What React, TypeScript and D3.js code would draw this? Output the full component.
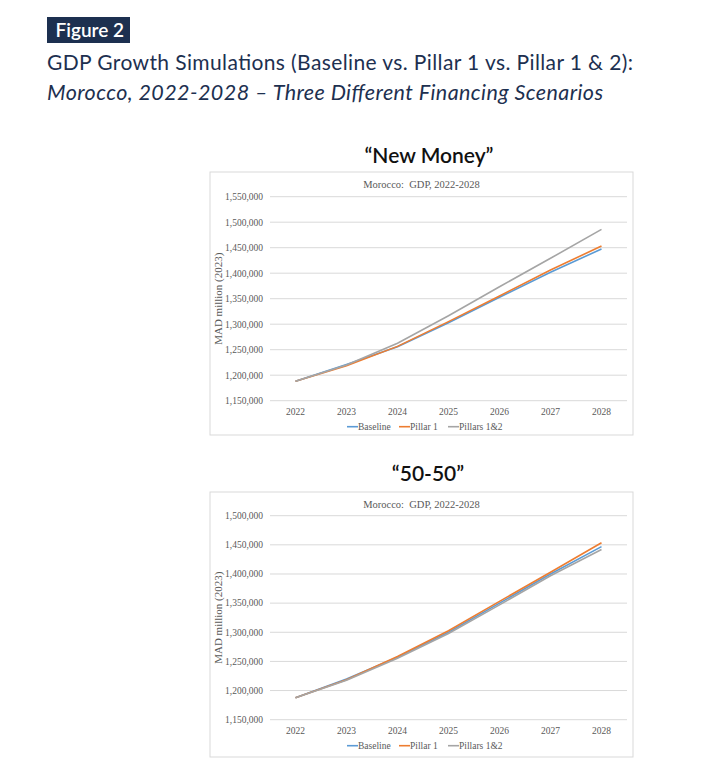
import * as d3 from 'd3';
import { FC } from 'react';

const years = ['2022', '2023', '2024', '2025', '2026', '2027', '2028'];
const seriesNames = ['Baseline', 'Pillar 1', 'Pillars 1&2'];
const colors = ['#5b9bd5', '#ed7d31', '#a5a5a5'];

// "New Money" scenario
const newMoneyBaseline = [1188000, 1221000, 1256000, 1303000, 1352700, 1401800, 1447500];
const newMoneyPillar1 = [1188000, 1218500, 1256500, 1305000, 1355300, 1406300, 1453300];
const newMoneyPillars12 = [1188000, 1220000, 1262500, 1316700, 1373500, 1429200, 1486000];
const newMoneyTicks = [1150000, 1200000, 1250000, 1300000, 1350000, 1400000, 1450000, 1500000, 1550000];

// "50-50" scenario
const fiftyBaseline = [1187500, 1220000, 1257000, 1300000, 1350000, 1400000, 1447000];
const fiftyPillar1 = [1187500, 1218500, 1258500, 1302500, 1353000, 1403000, 1453500];
const fiftyPillars12 = [1187500, 1217500, 1255500, 1298000, 1347000, 1397000, 1442000];
const fiftyTicks = [1150000, 1200000, 1250000, 1300000, 1350000, 1400000, 1450000, 1500000];

const navy = '#1d3050';
const serif = '"Liberation Serif", "Times New Roman", serif';
const sans = 'Lato, "Open Sans", sans-serif';
const fmt = d3.format(',');

type PanelProps = {
  top: number;
  series: number[][];
  ticks: number[];
  gridTop: number;
  gridBottom: number;
  frameBottom: number;
};

const Panel: FC<PanelProps> = ({ top, series, ticks, gridTop, gridBottom, frameBottom }) => {
  const frame = { left: 210, right: 633 };
  const gridLeft = 270;
  const gridRight = 627;

  // categories centred in equal bands, like Excel
  const x = d3.scaleBand<string>().domain(years).range([gridLeft, gridRight]);
  const cx = (yr: string) => x(yr)! + x.bandwidth() / 2;
  const y = d3
    .scaleLinear()
    .domain([ticks[0], ticks[ticks.length - 1]])
    .range([gridBottom, gridTop]);

  const line = d3
    .line<number>()
    .x((_d, i) => cx(years[i]))
    .y((d) => y(d));

  const legendY = gridBottom + 26;
  const legendX = [347, 399, 448];

  return (
    <g>
      <rect
        x={frame.left}
        y={top}
        width={frame.right - frame.left}
        height={frameBottom - top}
        fill="#fff"
        stroke="#d9d9d9"
        strokeWidth={1}
      />
      <text
        x={(frame.left + frame.right) / 2}
        y={top + 15.5}
        textAnchor="middle"
        fontFamily={serif}
        fontSize={10.5}
        fill="#595959"
        style={{ whiteSpace: 'pre' }}
      >
        {'Morocco:  GDP, 2022-2028'}
      </text>
      {ticks.map((t) => (
        <g key={t}>
          <line x1={gridLeft} x2={gridRight} y1={y(t)} y2={y(t)} stroke="#d9d9d9" strokeWidth={1} />
          <text
            x={263}
            y={y(t)}
            dy="0.35em"
            textAnchor="end"
            fontFamily={serif}
            fontSize={9.5}
            fill="#595959"
          >
            {fmt(t)}
          </text>
        </g>
      ))}
      {years.map((yr) => (
        <text
          key={yr}
          x={cx(yr)}
          y={gridBottom + 14}
          textAnchor="middle"
          fontFamily={serif}
          fontSize={9.5}
          fill="#595959"
        >
          {yr}
        </text>
      ))}
      <text
        transform={`translate(222,${(gridTop + gridBottom) / 2}) rotate(-90)`}
        textAnchor="middle"
        fontFamily={serif}
        fontSize={11}
        fill="#595959"
      >
        MAD million (2023)
      </text>
      {series.map((s, i) => (
        <path key={seriesNames[i]} d={line(s)!} fill="none" stroke={colors[i]} strokeWidth={1.6} />
      ))}
      {seriesNames.map((name, i) => (
        <g key={name}>
          <line
            x1={legendX[i]}
            x2={legendX[i] + 11}
            y1={legendY}
            y2={legendY}
            stroke={colors[i]}
            strokeWidth={1.6}
          />
          <text
            x={legendX[i] + 11}
            y={legendY}
            dy="0.35em"
            fontFamily={serif}
            fontSize={9.5}
            fill="#595959"
          >
            {name}
          </text>
        </g>
      ))}
    </g>
  );
};

export default function App() {
  return (
    <svg
      width={726}
      height={773}
      style={{ position: 'absolute', left: 0, top: 0, background: '#fff' }}
    >
      <rect x={47} y={17} width={83} height={26} fill={navy} />
      <text x={55.5} y={37} fontFamily={sans} fontSize={19} fontWeight={600} fill="#fff">
        Figure 2
      </text>
      <text
        x={47}
        y={70}
        fontFamily={sans}
        fontSize={21}
        fill={navy}
        textLength={586}
        lengthAdjust="spacing"
      >
        GDP Growth Simulations (Baseline vs. Pillar 1 vs. Pillar 1 &amp; 2):
      </text>
      <text
        x={47}
        y={100}
        fontFamily={sans}
        fontSize={21.5}
        fontStyle="italic"
        fill={navy}
        textLength={556}
        lengthAdjust="spacing"
      >
        Morocco, 2022-2028 – Three Different Financing Scenarios
      </text>

      <text x={429} y={163} textAnchor="middle" fontFamily={sans} fontSize={21} fontWeight={600} fill="#111">
        “New Money”
      </text>
      <Panel
        top={172}
        series={[newMoneyBaseline, newMoneyPillar1, newMoneyPillars12]}
        ticks={newMoneyTicks}
        gridTop={196.7}
        gridBottom={400.7}
        frameBottom={435}
      />

      <text x={428} y={481} textAnchor="middle" fontFamily={sans} fontSize={21} fontWeight={600} fill="#111">
        “50-50”
      </text>
      <Panel
        top={492}
        series={[fiftyBaseline, fiftyPillar1, fiftyPillars12]}
        ticks={fiftyTicks}
        gridTop={515.7}
        gridBottom={719.7}
        frameBottom={757}
      />
    </svg>
  );
}
